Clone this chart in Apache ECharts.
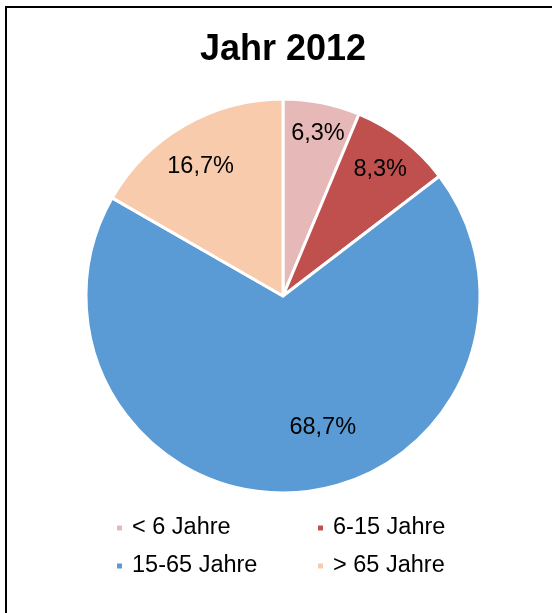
<!DOCTYPE html>
<html>
<head>
<meta charset="utf-8">
<script src="https://cdn.jsdelivr.net/npm/echarts@6/dist/echarts.min.js"></script>
<style>
  html, body { margin: 0; padding: 0; background: #fff; }
  #chart { width: 552px; height: 613px; }
</style>
</head>
<body>
<div id="chart"></div>
<script>
// Altersgruppen und Anteile (Prozent) für das Jahr 2012
const categories = ['< 6 Jahre', '6-15 Jahre', '15-65 Jahre', '> 65 Jahre'];
const shares = [6.3, 8.3, 68.7, 16.7];
const colors = ['#E6B9B8', '#C0504D', '#5B9BD5', '#F8CBAD'];
const title = 'Jahr 2012';

// Feinkorrektur der Beschriftungen innerhalb der Segmente
const labelNudges = [[3, -3], [-2, 2], [29, -31], [-1, 11]];

const font = '"Liberation Sans", Arial, sans-serif';
const center = [283, 296];
const radius = 197;

const fmt = v => v.toFixed(1).replace('.', ',') + '%';

const sliceData = categories.map((name, i) => ({
  name,
  value: shares[i],
  itemStyle: { color: colors[i] }
}));

// Unsichtbare Hilfsreihe: gleiche Winkel, nur für die Lage der Prozentwerte
const labelData = categories.map((name, i) => ({
  name: name + ' ',
  value: shares[i],
  label: { offset: labelNudges[i] }
}));

const legendStyle = {
  orient: 'vertical',
  top: 516,
  padding: 0,
  itemWidth: 7,
  itemHeight: 7,
  itemGap: 14,
  icon: 'rect',
  selectedMode: false,
  textStyle: { fontFamily: font, fontSize: 23.5, color: '#000', padding: [0, 0, 0, 4] }
};

const chart = echarts.init(document.getElementById('chart'), null, { renderer: 'canvas' });

chart.setOption({
  backgroundColor: '#ffffff',
  animation: false,
  title: {
    text: title,
    left: 278,
    textAlign: 'center',
    top: 27,
    textStyle: { fontFamily: font, fontSize: 36, fontWeight: 'bold', color: '#000' }
  },
  legend: [
    Object.assign({ data: [categories[0], categories[2]], left: 115 }, legendStyle),
    Object.assign({ data: [categories[1], categories[3]], left: 316 }, legendStyle)
  ],
  graphic: [
    {
      type: 'rect',
      shape: { x: 6, y: 7, width: 600, height: 700 },
      style: { fill: null, stroke: '#000', lineWidth: 2 },
      silent: true,
      z: 100
    }
  ],
  series: [
    {
      type: 'pie',
      center,
      radius: [0, radius],
      startAngle: 90,
      clockwise: true,
      data: sliceData,
      itemStyle: { borderColor: '#ffffff', borderWidth: 3 },
      label: { show: false },
      labelLine: { show: false },
      emphasis: { disabled: true },
      silent: true
    },
    {
      type: 'pie',
      center,
      radius: [0, radius * 0.81 * 2],
      startAngle: 90,
      clockwise: true,
      data: labelData,
      itemStyle: { color: 'rgba(0,0,0,0)', borderWidth: 0 },
      label: {
        show: true,
        position: 'inside',
        formatter: p => fmt(p.value),
        fontFamily: font,
        fontSize: 23.5,
        color: '#000'
      },
      labelLine: { show: false },
      emphasis: { disabled: true },
      silent: true,
      z: 5
    }
  ]
});
</script>
</body>
</html>
